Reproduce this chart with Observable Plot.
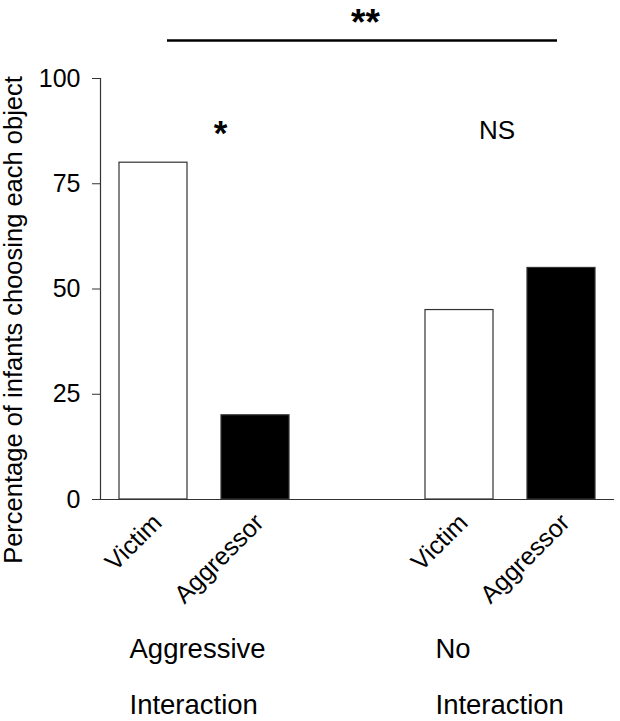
<!DOCTYPE html>
<html>
<head>
<meta charset="utf-8">
<script src="https://cdn.jsdelivr.net/npm/d3@7"></script>
<script src="https://cdn.jsdelivr.net/npm/@observablehq/plot@0.6"></script>
<style>
  html, body { margin: 0; padding: 0; background: #fff; }
  #chart svg { display: block; }
</style>
</head>
<body>
<div id="chart"></div>
<script>
// ---- data ----
const conditions = ["Aggressive Interaction", "No Interaction"];
const objects = ["Victim", "Aggressor"];
const victimPct = [80, 45];
const aggressorPct = [20, 55];
const yTicks = [0, 25, 50, 75, 100];
const pairSignificance = ["*", "NS"];
const overallSignificance = "**";

// ---- build table ----
const rows = conditions.flatMap((c, i) =>
  objects.map((o, j) => ({
    key: c + "|" + o,
    condition: c,
    object: o,
    pct: j === 0 ? victimPct[i] : aggressorPct[i]
  }))
);
const spacer = "spacer";
const xDomain = [rows[0].key, rows[1].key, spacer, rows[2].key, rows[3].key];
const labelOf = new Map(rows.map(r => [r.key, r.object]));

const font = "'Liberation Sans', Arial, Helvetica, sans-serif";

const chart = Plot.plot({
  width: 620,
  height: 721,
  marginTop: 78,
  marginBottom: 222,
  marginLeft: 100,
  marginRight: 7,
  style: { fontFamily: font, color: "black", background: "white" },
  x: { type: "band", domain: xDomain, paddingInner: 0.334, paddingOuter: 0.16, axis: null },
  y: { domain: [0, 100], axis: null },
  color: { domain: objects, range: ["white", "black"] },
  marks: [
    Plot.barY(rows, { x: "key", y: "pct", fill: "object", stroke: "#333", strokeWidth: 1.2 }),
    Plot.frame({ anchor: "left", stroke: "#333", strokeWidth: 1.2 }),
    Plot.frame({ anchor: "bottom", stroke: "#333", strokeWidth: 1.2 }),
    Plot.axisY({ ticks: yTicks, tickSize: 8, tickPadding: 12, fontSize: 25, stroke: "#333", fill: "black", label: null }),
    Plot.axisX({
      ticks: rows.map(r => r.key),
      tickSize: 0, tickPadding: 19, dx: 4,
      rotate: -45, textAnchor: "end", lineAnchor: "middle",
      fontSize: 25, fill: "black",
      tickFormat: k => labelOf.get(k) ?? "",
      label: null
    }),
    // y axis title
    Plot.text(["Percentage of infants choosing each object"], {
      frameAnchor: "left", rotate: -90, textAnchor: "middle", lineAnchor: "bottom",
      dx: -79, dy: 31, fontSize: 25.5, fill: "black"
    }),
    // group labels
    Plot.text(conditions, {
      x: (d, i) => rows[i * 2].key,
      text: d => d.split(" ").join("\n"),
      frameAnchor: "bottom", textAnchor: "start", lineAnchor: "top",
      dx: -24, dy: 118, fontSize: 27.5, lineHeight: 2.05, fill: "black"
    }),
    // within-condition significance
    Plot.text([pairSignificance[0]], {
      x: () => rows[1].key, y: () => 90, text: d => d,
      lineAnchor: "top", dx: -35, fontSize: 35, fontWeight: "bold", fill: "black"
    }),
    Plot.text([pairSignificance[1]], {
      x: () => rows[2].key, y: () => 90, text: d => d,
      lineAnchor: "top", dx: 37.5, fontSize: 26, fill: "black"
    }),
    // overall comparison bracket
    Plot.ruleY([109], { stroke: "black", strokeWidth: 2.5, insetLeft: 67, insetRight: 56 }),
    Plot.text([overallSignificance], {
      x: () => spacer, y: () => 116.6, text: d => d,
      lineAnchor: "top", dx: 8, fontSize: 37, fontWeight: "bold", fill: "black"
    })
  ]
});
document.getElementById("chart").appendChild(chart);
</script>
</body>
</html>
